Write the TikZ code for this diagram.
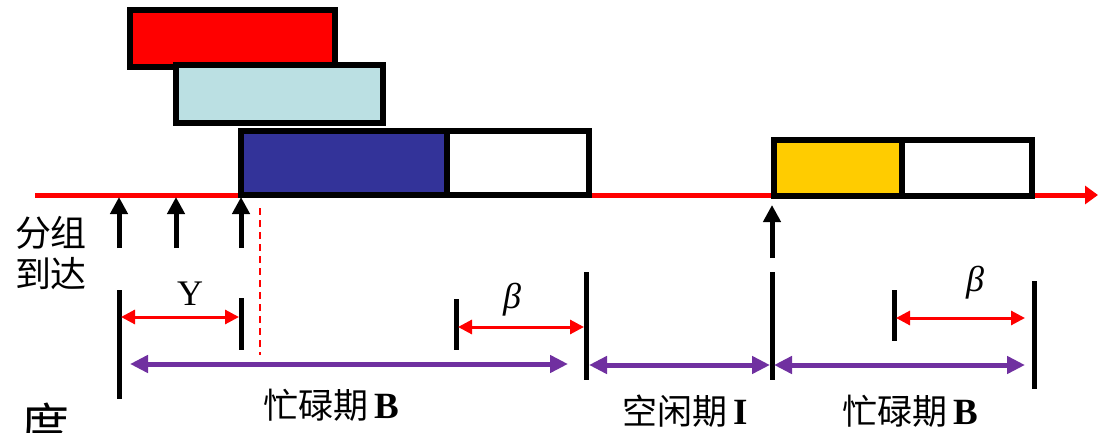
\documentclass[tikz,border=0pt]{standalone}
\usepackage{fontspec}
\setmainfont{Liberation Serif}
\newfontfamily\cjk{Noto Sans CJK SC}
\usetikzlibrary{arrows.meta}
\definecolor{navy}{HTML}{333399}
\definecolor{lcyan}{HTML}{BBE0E3}
\definecolor{gold}{HTML}{FFCC00}
\definecolor{purp}{HTML}{7030A0}
\definecolor{axred}{HTML}{FF0000}
\begin{document}
\begin{tikzpicture}[x=1pt,y=-1pt,
  box/.style={draw=black,line width=6pt,inner sep=0pt,outer sep=0pt,anchor=north west},
  axisline/.style={draw=axred,line width=5pt,-{Triangle[length=13pt,width=18pt]}},
  arrival/.style={draw=black,line width=5pt,-{Triangle[length=17pt,width=17pt]}},
  tick/.style={draw=black,line width=5pt},
  reddash/.style={draw=axred,line width=2.5pt,dash pattern=on 7pt off 5pt},
  redspan/.style={draw=axred,line width=3pt,{Triangle[length=14pt,width=14pt]}-{Triangle[length=14pt,width=14pt]}},
  purpspan/.style={draw=purp,line width=5pt,{Triangle[length=18pt,width=17pt]}-{Triangle[length=18pt,width=17pt]}},
  cjklabel/.style={font=\cjk\fontsize{35}{40}\selectfont,inner sep=0pt},
  sym/.style={font=\fontsize{36}{40}\selectfont,inner sep=0pt}
]
\useasboundingbox[fill=white] (0,0) rectangle (1098,433);

% time axis
\coordinate (axL) at (35,195);
\coordinate (axR) at (1098,195);
\draw[axisline] (axL) -- (axR);

% packet boxes
\node[box,fill=axred,minimum width=205pt,minimum height=57pt] (rbox) at (130,10) {};
\node[box,fill=lcyan,minimum width=207pt,minimum height=58pt] (cbox) at (176,65) {};
\node[box,fill=navy,minimum width=206pt,minimum height=64pt] (nbox) at (241,131) {};
\node[box,fill=white,minimum width=142pt,minimum height=64pt] (nwbox) at (447,131) {};
\node[box,fill=gold,minimum width=128pt,minimum height=56pt] (ybox) at (774,140) {};
\node[box,fill=white,minimum width=130pt,minimum height=56pt] (ywbox) at (902,140) {};

% arrivals
\coordinate (a1b) at (119,248); \coordinate (a1t) at (119,197);
\coordinate (a2b) at (176,248); \coordinate (a2t) at (176,197);
\coordinate (a3b) at (241,248); \coordinate (a3t) at (241,197);
\coordinate (a4b) at (772,258); \coordinate (a4t) at (772,205);
\draw[arrival] (a1b) -- (a1t);
\draw[arrival] (a2b) -- (a2t);
\draw[arrival] (a3b) -- (a3t);
\draw[arrival] (a4b) -- (a4t);

\node[cjklabel,font=\cjk\fontsize{36}{41}\selectfont,align=center] (arrtxt) at (51,253) {分组\\到达};

% ticks
\coordinate (t1a) at (119,290); \coordinate (t1b) at (119,399);
\coordinate (t2a) at (241,298); \coordinate (t2b) at (241,350);
\coordinate (t3a) at (456,299); \coordinate (t3b) at (456,350);
\coordinate (t4a) at (586,272); \coordinate (t4b) at (586,380);
\coordinate (t5a) at (772,272); \coordinate (t5b) at (772,380);
\coordinate (t6a) at (894,290); \coordinate (t6b) at (894,341);
\coordinate (t7a) at (1034,281); \coordinate (t7b) at (1034,389);
\foreach \t in {1,...,7} {\draw[tick] (t\t a) -- (t\t b);}

% dashed marker
\coordinate (d1) at (260,208); \coordinate (d2) at (260,355);
\draw[reddash] (d1) -- (d2);

% red spans
\coordinate (y1) at (121,317); \coordinate (y2) at (239,317);
\draw[redspan] (y1) -- (y2);
\coordinate (b1) at (458,327); \coordinate (b2) at (584,327);
\draw[redspan] (b1) -- (b2);
\coordinate (c1) at (896,318); \coordinate (c2) at (1025,318);
\draw[redspan] (c1) -- (c2);

\node[sym] (Ylab) at (190,294) {Y};
\node[sym,font=\itshape\fontsize{36}{40}\selectfont] (beta1) at (512,300) {β};
\node[sym,font=\itshape\fontsize{36}{40}\selectfont] (beta2) at (975,283) {β};

% purple spans
\coordinate (p1) at (130,364); \coordinate (p2) at (568,364);
\draw[purpspan] (p1) -- (p2);
\coordinate (p3) at (589,365); \coordinate (p4) at (770,365);
\draw[purpspan] (p3) -- (p4);
\coordinate (p5) at (774,365); \coordinate (p6) at (1025,365);
\draw[purpspan] (p5) -- (p6);

% period labels
\node[cjklabel] (busy1) at (331,405) {忙碌期\,{\rmfamily\bfseries\fontsize{37}{40}\selectfont B}};
\node[cjklabel] (idle) at (685,411) {空闲期\,{\rmfamily\bfseries\fontsize{37}{40}\selectfont I}};
\node[cjklabel] (busy2) at (910,411) {忙碌期\,{\rmfamily\bfseries\fontsize{37}{40}\selectfont B}};

% cut-off text at lower left (cut by the picture's edge, as in the reference)
\node[cjklabel,font=\cjk\fontsize{48}{50}\selectfont,anchor=base] (cut) at (45,443) {度};
\end{tikzpicture}
\end{document}
